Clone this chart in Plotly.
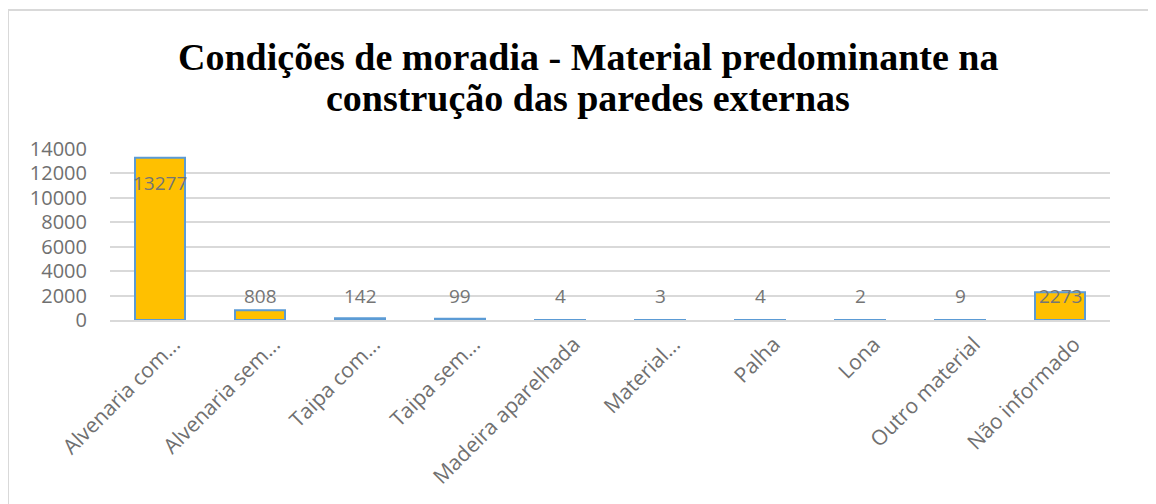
import plotly.graph_objects as go

categories = ["Alvenaria com...", "Alvenaria sem...", "Taipa com...", "Taipa sem...",
              "Madeira aparelhada", "Material...", "Palha", "Lona", "Outro material",
              "Não informado"]
values = [13277, 808, 142, 99, 4, 3, 4, 2, 9, 2273]
y_ticks = [0, 2000, 4000, 6000, 8000, 10000, 12000, 14000]
title_lines = ["Condições de moradia - Material predominante na",
               "construção das paredes externas"]

# page body margin offset (pixels)
OFF = 8
# plot-area geometry in screen pixels
L, T, W, H = 110 - OFF, 149 - OFF, 1000, 171
FIG_W, FIG_H = 1156, 504


def px_x(px):
    return (px - OFF - L) / W


def px_y(py):
    return (T + H - (py - OFF)) / H


fig = go.Figure()
fig.add_trace(go.Bar(
    x=categories, y=values,
    marker=dict(color="#FFC000", line=dict(color="#5B9BD5", width=2)),
    width=0.5,
))

for c, v in zip(categories, values):
    if v > 5000:
        fig.add_annotation(x=c, y=v, yref="y", xref="x", text=str(v), showarrow=False,
                           yanchor="top", yshift=-10,
                           font=dict(family="Open Sans", size=19, color="#757575"))
    else:
        fig.add_annotation(x=c, y=2000, yref="y", xref="x", text=str(v), showarrow=False,
                           yanchor="middle",
                           font=dict(family="Open Sans", size=19, color="#757575"))

title_y_px = [57, 98]
for line, py in zip(title_lines, title_y_px):
    fig.add_annotation(x=px_x(588), y=px_y(py), xref="paper", yref="paper",
                       text="<b>" + line + "</b>", showarrow=False,
                       xanchor="center", yanchor="middle",
                       font=dict(family="Liberation Serif", size=38, color="black"))

fig.update_layout(
    width=FIG_W, height=FIG_H,
    margin=dict(l=L, r=FIG_W - L - W, t=T, b=FIG_H - T - H),
    paper_bgcolor="white", plot_bgcolor="white",
    showlegend=False,
    xaxis=dict(tickangle=-45, showline=True, linecolor="#d9d9d9", linewidth=1.5,
               tickfont=dict(family="Open Sans", size=21, color="#707070"),
               ticks="", showgrid=False, automargin=False,
               ticklabelshift=14, ticklabelstandoff=2),
    yaxis=dict(range=[0, 14000], tickvals=y_ticks, ticktext=[str(t) for t in y_ticks],
               showgrid=True, gridcolor="#d9d9d9",
               gridwidth=1.5, zeroline=False, automargin=False,
               tickfont=dict(family="Open Sans", size=20, color="#707070"),
               ticks="", ticklabelstandoff=22),
    shapes=[dict(type="rect", xref="paper", yref="paper",
                 x0=px_x(8), x1=px_x(1190), y0=px_y(540), y1=px_y(10),
                 line=dict(color="#d9d9d9", width=2), fillcolor="rgba(0,0,0,0)")],
)

fig.write_html("out.html")
